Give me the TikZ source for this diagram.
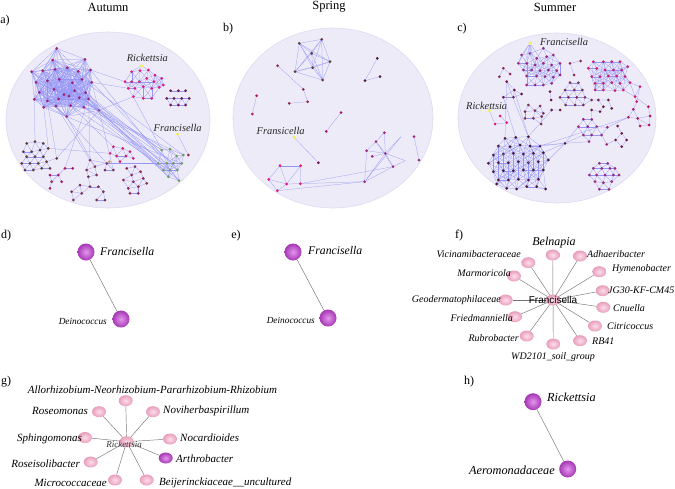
\documentclass[tikz,border=0pt]{standalone}
\usepackage{fontspec}
\setmainfont{Liberation Serif}
\newfontfamily\arialf{Liberation Sans}
\usetikzlibrary{shapes.geometric}
\definecolor{netbg}{RGB}{237,235,248}
\definecolor{netbd}{RGB}{222,218,242}
\definecolor{netblue}{RGB}{150,150,246}
\definecolor{cA}{RGB}{160,32,110}
\definecolor{cR}{RGB}{225,24,122}
\definecolor{cD}{RGB}{107,24,72}
\definecolor{cG}{RGB}{108,156,92}
\definecolor{cB}{RGB}{94,58,56}
\definecolor{cP}{RGB}{208,26,112}
\definecolor{cDR}{RGB}{142,42,78}
\definecolor{cM}{RGB}{176,24,94}
\definecolor{cW}{RGB}{122,48,80}
\definecolor{cV}{RGB}{150,40,125}
\definecolor{cK}{RGB}{74,24,56}
\definecolor{cY}{RGB}{245,240,60}
\definecolor{pin}{RGB}{228,150,238}
\definecolor{pout}{RGB}{165,55,180}
\definecolor{kin}{RGB}{253,222,234}
\definecolor{kout}{RGB}{232,158,188}
\tikzset{
  nn/.style={circle,inner sep=0pt,minimum size=3pt,draw=none},
  ny/.style={circle,inner sep=0pt,minimum size=3.3pt,draw=none,fill=cY},
  ne/.style={draw=netblue,line width=0.25pt},
  netbgs/.style={fill=netbg,draw=netbd,line width=0.6pt},
  title/.style={font=\fontsize{12.5}{14}\selectfont,inner sep=0pt},
  plab/.style={font=\fontsize{12}{14}\selectfont,inner sep=0pt},
  inl/.style={font=\fontsize{10.4}{12}\selectfont\itshape,inner sep=0pt,text=black!85},
  pball/.style={circle,inner sep=0pt,minimum size=17pt,inner color=pin,outer color=pout},
  kball/.style={ellipse,inner sep=0pt,minimum width=14pt,minimum height=11pt,inner color=kin,outer color=kout},
  kballv/.style={ellipse,inner sep=0pt,minimum width=14pt,minimum height=11pt,inner color=pin,outer color=pout},
  ge/.style={draw=black!55,line width=0.45pt},
  bigl/.style={font=\fontsize{11.7}{13}\selectfont\itshape,inner sep=0pt},
  smll/.style={font=\fontsize{9.3}{11}\selectfont\itshape,inner sep=0pt},
  fl/.style={font=\fontsize{10}{12}\selectfont\itshape,inner sep=0pt},
  gl/.style={font=\fontsize{11}{12}\selectfont\itshape,inner sep=0pt},
}
% cluster: coordinates first, edges, then nodes on top
\newcommand{\netnodes}[3]{\foreach \ax/\ay [count=\i] in {#3}{\node[nn,fill=#2] (#1-\i) at (\ax,\ay) {};}}
\newcommand{\netcl}[4]{%
  \foreach \ax/\ay [count=\i] in {#4}{\coordinate (#1-\i) at (\ax,\ay);}%
  \foreach \ax/\ay [count=\i] in {#4}{%
    \foreach \bx/\by [count=\j] in {#4}{%
      \ifnum\j>\i\relax
        \pgfmathtruncatemacro\ok{(((\ax)-(\bx))/100)*(((\ax)-(\bx))/100)+(((\ay)-(\by))/100)*(((\ay)-(\by))/100)<(#3/100)*(#3/100)}%
        \ifnum\ok=1\relax \draw[ne] (#1-\i) -- (#1-\j);\fi
      \fi}}%
  \netnodes{#1}{#2}{#4}}
\begin{document}
\begin{tikzpicture}[x=1pt,y=-1pt]
\useasboundingbox (0,0) rectangle (675,488);
% titles
\node[title] (tA) at (108,7) {Autumn};
\node[title] (tB) at (329,7) {Spring};
\node[title] (tC) at (555,7) {Summer};
\node[plab] (la) at (5,21) {a)};
\node[plab] (lb) at (228,29) {b)};
\node[plab] (lc) at (462,29) {c)};
% background ellipses
\draw[netbgs] (108,120) ellipse [x radius=102, y radius=88];
\draw[netbgs] (333,118) ellipse [x radius=100, y radius=90];
\draw[netbgs] (557,118) ellipse [x radius=99, y radius=85];
% ---------------- network a ----------------
\begin{scope}[scale=1/3]
\netcl{A1}{cA}{120}{170/145,255/178,158/180,95/215,128/212,165/208,202/203,235/214,272/210,108/247,142/242,178/238,217/248,246/238,275/247,118/277,162/268,192/284,224/272,257/278,103/298,142/303,176/297,207/288,238/293,266/297,131/322,168/318,212/317,252/322,297/331,200/350}
\netcl{A2}{cR}{45}{395/215,420/212,445/210,465/225,485/235,375/245,395/245,418/245,440/235,462/245,385/265,405/265,430/260,455/265,478/262,400/290,430/295,455/295,490/255}
\netcl{A3}{cD}{25}{512/272,535/272,557/272,500/295,522/295,545/295,568/295,512/315,535/315,557/315}
\netcl{A4}{cG}{45}{485/450,510/447,530/468,550/465,475/490,500/490,520/490,545/490,490/510,510/510,532/510,505/530,537/542}
\netcl{A5}{cB}{35}{80/430,105/425,130/430,70/455,95/455,120/450,145/445,80/470,105/470,130/470,65/490,90/490,115/490,140/485,170/475,75/510,100/510,125/505,150/505}
\netcl{A6}{cP}{35}{340/440,368/445,390/455,350/468,378/468,400/475,360/485,330/460}
\netcl{A7}{cDR}{32}{380/505,405/500,422/515,395/525,430/535,370/540,400/545,385/565,415/560,440/550,390/580,415/580}
\netcl{A8}{cM}{30}{150/525,175/525,155/545,185/545,150/565,195/505,218/505}
\netcl{A9}{cW}{35}{270/480,260/510,285/500,265/530,290/525,240/555,270/560,295/560,215/575,245/580,220/600,290/600,315/600,310/575}
\netcl{A10}{cW}{30}{320/490,340/510,315/510}
\node[nn,fill={rgb,255:red,200;green,150;blue,90}] (AT) at (328,485) {};
\node[ny] (AYr) at (425,198) {};
\node[ny] (AYf) at (533,403) {};
\node[nn,fill=cDR] (AF2) at (565,465) {};
\node[inl] (AlR) at (442,175) {Rickettsia};
\node[inl] (AlF) at (533,385) {Francisella};
\foreach \u/\v in {A1-31/A4-1,A1-31/A4-5,A1-31/A4-9,A1-30/A4-2,A1-30/A4-6,A1-26/A4-10,A1-25/A4-3,A1-20/A4-7,A1-19/A4-12,A1-15/A4-11,A1-9/A4-13,A1-14/A4-4,A1-32/A4-8,A1-29/A4-5,A1-28/A10-1,A1-28/A9-1,A1-32/A9-3,A1-27/A5-7,A1-31/A5-15,A1-22/A5-15,A1-9/A2-6,A1-15/A2-11,A1-31/A2-16,A1-26/A8-6,A1-29/A6-1,A1-31/A10-2,A1-21/A5-2,A1-26/A9-1,A1-30/A4-9,A1-20/A4-10,A1-19/A4-13,A1-26/A4-1,A1-25/A4-7,A1-31/A4-12,A2-16/A4-1,A5-7/A6-8,A10-1/A4-5,A9-1/A10-1,AYr/A2-1,AYr/A2-2,AYr/A2-3,AYf/AF2,AT/A10-1,AT/A9-3}
  \draw[ne] (\u) -- (\v);
\end{scope}
% ---------------- network b ----------------
\begin{scope}[shift={(220,0)},scale=1/3]
\netcl{B1}{cB}{140}{238/130,305/118,275/160,330/185,225/215,278/203,308/240}
\netnodes{B2}{cK}{472/175,435/242,480/230}
\netnodes{B3}{cDR}{173/197,250/268,263/305,208/310}
\netnodes{B4}{cM}{110/287,97/342}
\netnodes{B5}{cM}{363/338,319/394}
\netnodes{B6}{cD}{295/488}
\netcl{B7}{cR}{70}{180/497,242/497,146/538,200/552,241/551,172/572}
\netnodes{B8}{cV}{493/398,468/425,440/452,496/460,457/469,519/500,434/545}
\netnodes{B9}{cV}{582/410,597/480}
\coordinate (B8f1) at (543,410);
\coordinate (B8f2) at (556,482);
\node[ny] (BY) at (222,412) {};
\node[inl] (BlF) at (182,392) {Fransicella};
\foreach \u/\v in {B2-1/B2-2,B2-2/B2-3,B3-1/B3-2,B3-2/B3-3,B3-3/B3-4,B4-1/B4-2,B5-1/B5-2,BY/B6-1,B8-1/B8-2,B8-1/B8-4,B8-2/B8-3,B8-2/B8-4,B8-3/B8-4,B8-3/B8-7,B8-4/B8-5,B8-4/B8-6,B8-4/B8-7,B8-4/B8f1,B8-7/B8f1,B8-4/B8f2,B8-6/B8f2,B8-7/B8-6,B8-2/B8-6,B9-1/B9-2,B7-5/B8-7,B7-6/B8-7,B7-5/B8-6}
  \draw[ne] (\u) -- (\v);
\end{scope}
% ---------------- network c ----------------
\begin{scope}[shift={(445,0)},scale=1/3]
\netcl{C1}{cV}{45}{230/165,255/160,295/145,275/175,305/170,325/165,220/190,245/190,270/195,295/190,320/195,345/190,235/210,260/210,285/212,310/210,335/212,245/228,275/228,300/230,325/232,345/225,245/255,270/255,295/255,320/250}
\netcl{C2}{cP}{48}{445/185,475/185,500/185,525/185,548/200,430/205,455/205,480/210,505/210,530/210,440/230,465/230,490/228,515/228,540/230,450/250,475/250,500/248,525/250,555/248,450/270,475/270,510/272,535/270,585/260,570/290,575/305}
\netnodes{C3}{cDR}{375/190,407/183,387/225}
\netnodes{C14}{cDR}{175/205,195/222,163/230}
\netcl{C4}{cW}{35}{375/248,400/248,360/270,388/270,412/270,345/292,370/292,395/292,420/292,362/315,390/315,415/315,440/300}
\netcl{C5}{cD}{40}{185/245,208/270,230/282,175/292,205/292}
\netnodes{C15}{cD}{315/275,318/300}
\netcl{C6}{cW}{32}{250/315,285/318,240/335,270/332,295/340,240/355,265/355,290/350,288/372}
\netnodes{C7}{cD}{460/300,490/300,475/320,440/330,465/335,500/325,345/330,320/330}
\netcl{C8}{cV}{35}{415/358,440/358,400/380,428/380,455/380,487/382,415/405,440/405,470/405,432/425,485/433}
\netcl{C9}{cM}{40}{565/328,610/320,550/352,578/355,615/348,585/378,612/375}
\netnodes{C10}{cD}{518/378,530/400,512/420,530/440,545/420}
\netcl{C11}{cK}{58}{180/415,212/412,250/410,160/438,195/440,225/435,255/438,285/438,145/465,175/462,205/460,235/462,265/460,295/458,130/490,160/488,190/488,220/485,250/488,280/485,310/480,145/515,175/512,205/512,235/510,265/510,295/510,160/540,190/540,220/538,250/540,280/538,155/552,215/567,245/560,275/560,302/567,185/565,360/430}
\netcl{C12}{cV}{32}{463/490,488/490,445/505,470/505,495/505,510/505,433/525,455/525,480/525,505/525,522/525,450/545,475/548,500/545,463/568,492/568}
\netnodes{C13}{cR}{150/372,165/348,185/368}
\node[ny] (CYf) at (255,130) {};
\node[ny] (CYr) at (133,332) {};
\node[inl] (ClF) at (357,125) {Francisella};
\node[inl] (ClR) at (125,318) {Rickettsia};
\foreach \u/\v in {CYf/C1-1,CYf/C1-2,CYf/C1-7,CYf/C1-8,CYf/C1-9,CYf/C1-10,CYf/C1-13,CYf/C1-14,CYr/C13-1,C13-1/C13-3,C13-2/C13-3,C3-1/C3-2,C3-1/C3-3,C14-1/C14-2,C14-1/C14-3,C15-1/C15-2,C7-1/C7-2,C7-1/C7-3,C7-3/C7-5,C7-4/C7-5,C7-2/C7-6,C7-7/C7-8,C10-1/C10-2,C10-2/C10-3,C10-3/C10-4,C10-2/C10-5,C10-4/C10-5,C11-39/C11-8,C11-39/C11-14,C11-39/C11-21,C11-39/C11-7,C11-39/C8-10,C11-39/C8-3,C11-39/C8-7,C11-3/C5-1,C11-2/C5-4,C11-1/C5-1,C11-3/C5-2,C11-8/C9-3,C11-3/C7-8,C8-11/C10-3,C8-6/C9-3,C2-26/C9-2,C2-27/C9-1,C4-13/C7-1,C8-2/C7-4,C11-9/C11-2,C11-15/C11-6,C11-28/C11-8,C11-33/C11-14,C11-34/C11-21}
  \draw[ne] (\u) -- (\v);
\end{scope}
% ---------------- d ----------------
\node[plab] (ld) at (6,236) {d)};
\node[pball] (dF) at (86,252) {};
\node[pball] (dD) at (121,319) {};
\draw[ge] (dF) -- (dD);
\node[bigl,anchor=west] (dFl) at (100,251) {Francisella};
\node[smll,anchor=east] (dDl) at (107,321) {Deinococcus};
% ---------------- e ----------------
\node[plab] (le) at (236,236) {e)};
\node[pball] (eF) at (293,252) {};
\node[pball] (eD) at (328,318) {};
\draw[ge] (eF) -- (eD);
\node[bigl,anchor=west] (eFl) at (308,250) {Francisella};
\node[smll,anchor=east] (eDl) at (315,320) {Deinococcus};
% ---------------- f ----------------
\node[plab] (lf) at (459,236) {f)};
\coordinate (fc) at (553,300);
\node[kball] (f1) at (552.7,255) {};
\node[kball] (f2) at (580,256) {};
\node[kball] (f3) at (599.3,271.7) {};
\node[kball] (f4) at (602.7,290.7) {};
\node[kball] (f5) at (603.3,307.3) {};
\node[kball] (f6) at (595,326) {};
\node[kball] (f7) at (580,340.7) {};
\node[kball] (f8) at (553.3,344) {};
\node[kball] (f9) at (526.7,336) {};
\node[kball] (f10) at (515,316.7) {};
\node[kball] (f11) at (505.7,300) {};
\node[kball] (f12) at (514,276) {};
\node[kball] (f13) at (528.3,262.7) {};
\foreach \k in {1,...,13} \draw[ge] (fc) -- (f\k);
\node[kball] (fC) at (fc) {};
\node[font=\fontsize{10}{12}\selectfont\arialf,inner sep=0pt] (fCl) at (553,300) {Francisella};
\node[font=\fontsize{12}{13}\selectfont\itshape,inner sep=0pt] (f1l) at (554,243) {Belnapia};
\node[fl,anchor=west] (f2l) at (587,254) {Adhaeribacter};
\node[fl,anchor=west] (f3l) at (612,269) {Hymenobacter};
\node[fl,anchor=west] (f4l) at (608,290) {JG30-KF-CM45};
\node[fl,anchor=west] (f5l) at (613,308) {Cnuella};
\node[fl,anchor=west] (f6l) at (607,326) {Citricoccus};
\node[fl,anchor=west] (f7l) at (592,341) {RB41};
\node[fl] (f8l) at (553,357) {WD2101\_soil\_group};
\node[fl,anchor=east] (f9l) at (519,338) {Rubrobacter};
\node[fl,anchor=east] (f10l) at (513,318) {Friedmanniella};
\node[fl,anchor=east] (f11l) at (501,300) {Geodermatophilaceae};
\node[fl,anchor=east] (f12l) at (511,273) {Marmoricola};
\node[fl,anchor=east] (f13l) at (521,254) {Vicinamibacteraceae};
% ---------------- g ----------------
\node[plab] (lg) at (6,382) {g)};
\coordinate (gc) at (126.7,441.7);
\node[kball] (g1) at (125.7,400.7) {};
\node[kball] (g2) at (99,411.7) {};
\node[kball] (g3) at (153,411.7) {};
\node[kball] (g4) at (85,437.5) {};
\node[kball] (g5) at (170,439) {};
\node[kball] (g6) at (90.7,462) {};
\node[kballv] (g7) at (165.7,458) {};
\node[kball] (g8) at (115,480) {};
\node[kball] (g9) at (146.7,480) {};
\foreach \k in {1,...,9} \draw[ge] (gc) -- (g\k);
\node[kball] (gC) at (gc) {};
\node[font=\fontsize{9}{10}\selectfont\itshape,inner sep=0pt,text=black!80] (gCl) at (124,444) {Rickettsia};
\node[gl] (g1l) at (152.5,390) {Allorhizobium-Neorhizobium-Pararhizobium-Rhizobium};
\node[gl,anchor=east] (g2l) at (88,411) {Roseomonas};
\node[gl,anchor=west] (g3l) at (163,411) {Noviherbaspirillum};
\node[gl,anchor=east] (g4l) at (82,439) {Sphingomonas};
\node[gl,anchor=west] (g5l) at (180,438) {Nocardioides};
\node[gl,anchor=east] (g6l) at (80,464) {Roseisolibacter};
\node[gl,anchor=west] (g7l) at (176,459) {Arthrobacter};
\node[gl,anchor=east] (g8l) at (107,483) {Micrococcaceae};
\node[gl,anchor=west] (g9l) at (159,483) {Beijerinckiaceae\_\_uncultured};
% ---------------- h ----------------
\node[plab] (lh) at (469,382) {h)};
\node[pball] (hR) at (533,401.7) {};
\node[pball] (hA) at (567.7,469) {};
\draw[ge] (hR) -- (hA);
\node[font=\fontsize{12.3}{14}\selectfont\itshape,inner sep=0pt,anchor=west] (hRl) at (547,397) {Rickettsia};
\node[font=\fontsize{12.3}{14}\selectfont\itshape,inner sep=0pt,anchor=east] (hAl) at (555,470) {Aeromonadaceae};
\end{tikzpicture}
\end{document}
